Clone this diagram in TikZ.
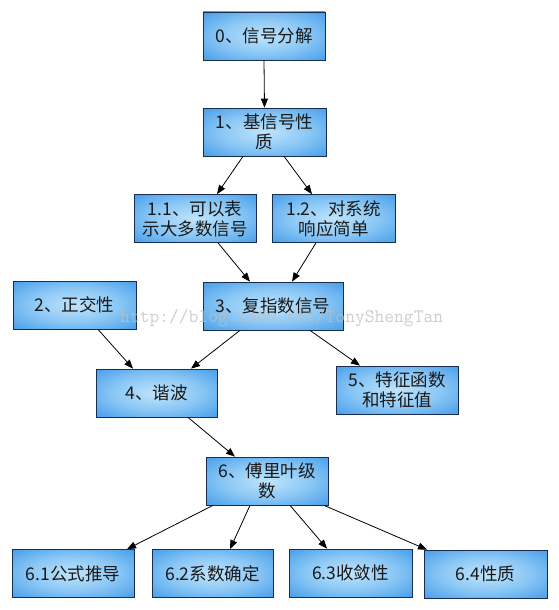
\documentclass[tikz,border=0pt]{standalone}
\usepackage{fontspec}
\setmainfont{Noto Sans CJK SC}
\usetikzlibrary{arrows.meta}
\definecolor{cin}{RGB}{192,228,251}
\definecolor{cmid}{RGB}{138,199,245}
\definecolor{cblue}{RGB}{62,152,233}
\definecolor{cout}{RGB}{36,122,212}
\definecolor{cdark}{RGB}{20,72,150}
\definecolor{cdeep}{RGB}{14,46,108}
\definecolor{cborder}{RGB}{25,45,80}
\pgfdeclareradialshading{boxshade}{\pgfpoint{0bp}{0bp}}{color(0bp)=(cin); color(18bp)=(cmid); color(38bp)=(cblue); color(49bp)=(cout); color(60bp)=(cdark); color(72bp)=(cdeep); color(80bp)=(cdeep)}
\tikzset{
  box/.style={draw=cborder, line width=0.7pt, shading=boxshade, minimum height=48pt, minimum width=122pt, inner sep=0pt, align=center, font=\fontsize{17.5}{20}\selectfont, text=black!90},
  conn/.style={draw=black, line width=0.8pt, -{Triangle[length=9pt,width=7pt]}}
}
\begin{document}
\begin{tikzpicture}[x=1pt,y=-1pt]
\useasboundingbox (0,0) rectangle (558,610);
\fill[white] (0,0) rectangle (558,610);
\node[box] (b0) at (264,36) {0、信号分解};
\node[box, minimum width=123pt] (b1) at (264.5,132) {1、基信号性\\质};
\node[box] (b11) at (195,218.5) {1.1、可以表\\示大多数信号};
\node[box, minimum width=123pt] (b12) at (333.5,218.5) {1.2、对系统\\响应简单};
\node[box, minimum width=123pt] (b2) at (74.5,305) {2、正交性};
\node[box, minimum width=140pt] (b3) at (273,306) {3、复指数信号};
\node[box, minimum width=121pt] (b4) at (156.5,393) {4、谐波};
\node[box] (b5) at (397,390) {5、特征函数\\和特征值};
\node[box] (b6) at (267,481) {6、傅里叶级\\数};
\node[box] (b61) at (73,573.5) {6.1公式推导};
\node[box, minimum width=121pt] (b62) at (212.5,573.5) {6.2系数确定};
\node[box, minimum width=123pt] (b63) at (350.5,573) {6.3收敛性};
\node[box, minimum width=123pt] (b64) at (485.5,574) {6.4性质};
\draw[conn] (b0.south) -- (b1.north);
\draw[conn] ([xshift=-21.5pt]b1.south) -- ([xshift=22pt]b11.north);
\draw[conn] ([xshift=19.5pt]b1.south) -- ([xshift=-21.5pt]b12.north);
\draw[conn] ([xshift=23pt]b11.south) -- ([xshift=-23pt]b3.north);
\draw[conn] ([xshift=-17.5pt]b12.south) -- ([xshift=19pt]b3.north);
\draw[conn] ([xshift=23.5pt]b2.south) -- ([xshift=-23.5pt]b4.north);
\draw[conn] ([xshift=-33pt]b3.south) -- ([xshift=34.5pt]b4.north);
\draw[conn] ([xshift=37pt]b3.south) -- ([xshift=-37pt]b5.north);
\draw[conn] ([xshift=31.5pt]b4.south) -- ([xshift=-32pt]b6.north);
\draw[conn] ([xshift=-54pt]b6.south) -- ([xshift=54pt]b61.north);
\draw[conn] ([xshift=-17pt]b6.south) -- ([xshift=17.5pt]b62.north);
\draw[conn] ([xshift=23pt]b6.south) -- ([xshift=-23.5pt]b63.north);
\draw[conn] ([xshift=57pt]b6.south) -- ([xshift=-58.5pt]b64.north);
\node[text=black!25, opacity=0.75, font=\ttfamily\fontsize{19}{20}\selectfont, inner sep=0pt, anchor=base west] (wm) at (120,322) {http://blog.csdn.net/TonyShengTan};
\end{tikzpicture}
\end{document}
